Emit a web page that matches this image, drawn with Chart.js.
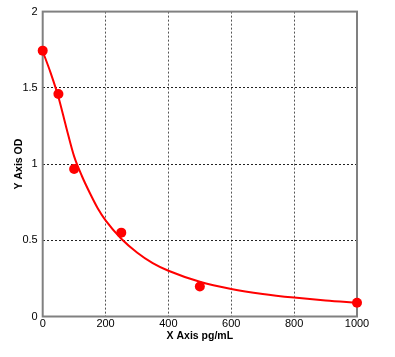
<!DOCTYPE html>
<html>
<head>
<meta charset="utf-8">
<script src="https://cdn.jsdelivr.net/npm/chart.js@4/dist/chart.umd.min.js"></script>
<style>
  html, body { margin: 0; padding: 0; background: #fff; }
  #wrap { width: 395px; height: 357px; }
</style>
</head>
<body>
<div id="wrap"><canvas id="c" width="395" height="357"></canvas></div>
<script>
// Measured standard points (concentration pg/mL, OD)
const pointX = [0, 50, 100, 250, 500, 1000];
const pointY = [1.744, 1.46, 0.968, 0.55, 0.197, 0.09];

// Fitted curve
const curveX = [0, 25, 50, 75, 100, 125, 150, 175, 200, 250, 300, 350, 400, 500, 600, 700, 800, 900, 1000];
const curveY = [1.74, 1.60, 1.44, 1.24, 1.05, 0.92, 0.81, 0.71, 0.63, 0.51, 0.42, 0.35, 0.30, 0.228, 0.181, 0.148, 0.124, 0.105, 0.091];

// Axis ticks
const xTicks = [0, 200, 400, 600, 800, 1000];
const yTicks = [0, 0.5, 1, 1.5, 2];

const xTitle = 'X Axis pg/mL';
const yTitle = 'Y Axis OD';

const curveData = curveX.map((x, i) => ({ x: x, y: curveY[i] }));
const pointData = pointX.map((x, i) => ({ x: x, y: pointY[i] }));

const frame = {
  id: 'frame',
  beforeDatasetsDraw(chart) {
    const { ctx, chartArea: a } = chart;
    ctx.save();
    ctx.strokeStyle = '#808080';
    ctx.lineWidth = 2;
    ctx.strokeRect(a.left, a.top, a.right - a.left, a.bottom - a.top);
    ctx.restore();
  }
};

const gridColor = (c) => (ctx) => {
  const i = ctx.index, n = ctx.scale.ticks.length;
  return (i === 0 || i === n - 1) ? 'rgba(0,0,0,0)' : c;
};

new Chart(document.getElementById('c'), {
  type: 'scatter',
  data: {
    datasets: [
      {
        data: curveData,
        showLine: true,
        borderColor: '#ff0000',
        backgroundColor: '#ff0000',
        borderWidth: 2,
        pointRadius: 0,
        cubicInterpolationMode: 'monotone',
        order: 2
      },
      {
        data: pointData,
        showLine: false,
        backgroundColor: '#ff0000',
        borderColor: '#ff0000',
        borderWidth: 0,
        pointRadius: 5,
        clip: false,
        order: 1
      }
    ]
  },
  options: {
    responsive: false,
    animation: false,
    events: [],
    layout: { padding: { top: 11, right: 38, left: 0, bottom: 0 } },
    plugins: { legend: { display: false }, tooltip: { enabled: false } },
    scales: {
      x: {
        type: 'linear',
        min: 0, max: 1000,
        afterBuildTicks: (s) => { s.ticks = xTicks.map(v => ({ value: v })); },
        afterFit: (s) => { s.height = 40.5; },
        ticks: {
          color: '#000',
          padding: 1,
          maxRotation: 0,
          font: { family: 'Liberation Sans, Arial, sans-serif', size: 11 },
          callback: (v) => String(v)
        },
        grid: { color: gridColor('#555555'), lineWidth: 1, drawTicks: false },
        border: { display: false, dash: [2, 2] },
        title: {
          display: true, text: xTitle, color: '#000',
          font: { family: 'Liberation Sans, Arial, sans-serif', size: 10.5, weight: 'bold' },
          padding: { top: 0, bottom: 14.7 }
        }
      },
      y: {
        type: 'linear',
        min: 0, max: 2,
        afterBuildTicks: (s) => { s.ticks = yTicks.map(v => ({ value: v })); },
        afterFit: (s) => { s.width = 42.7; },
        ticks: {
          color: '#000',
          padding: 5,
          font: { family: 'Liberation Sans, Arial, sans-serif', size: 11 },
          callback: (v) => String(v)
        },
        grid: { color: gridColor('#222222'), lineWidth: 1, drawTicks: false },
        border: { display: false, dash: [2, 2] },
        title: {
          display: true, text: yTitle, color: '#000',
          font: { family: 'Liberation Sans, Arial, sans-serif', size: 10.5, weight: 'bold' },
          padding: { top: 12.7, bottom: 0 }
        }
      }
    }
  },
  plugins: [frame]
});
</script>
</body>
</html>
